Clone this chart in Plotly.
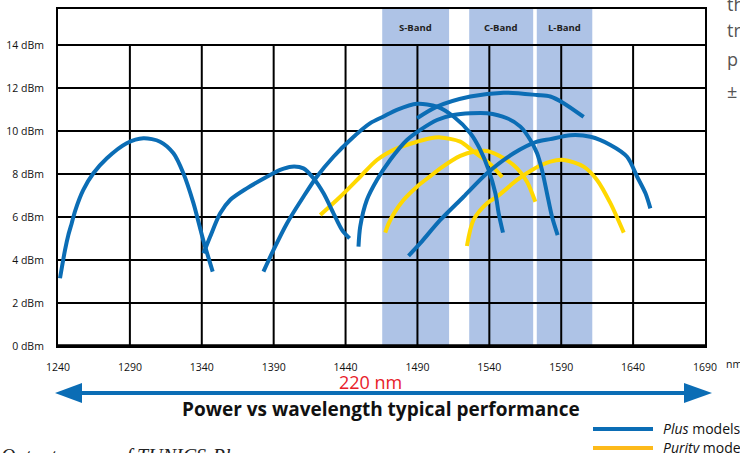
import plotly.graph_objects as go

# ---------------- data ----------------
wl_ticks = [1240, 1290, 1340, 1390, 1440, 1490, 1540, 1590, 1640, 1690]
dbm_ticks = [0, 2, 4, 6, 8, 10, 12, 14]
dbm_labels = [f"{v} dBm" for v in dbm_ticks]

band_names = ["S-Band", "C-Band", "L-Band"]
band_start = [1465.5, 1526.0, 1573.0]
band_end = [1512.0, 1570.5, 1611.6]

# Plus models (blue)
plus1_x = [1241.4, 1244.9, 1247.2, 1249.5, 1252.0, 1257.6, 1264.6, 1274.0, 1287.8, 1299.4, 1311.0, 1320.3, 1327.2, 1334.2, 1341.0, 1347.6]
plus1_y = [3.15, 4.47, 5.16, 5.70, 6.30, 7.26, 8.03, 8.73, 9.43, 9.66, 9.50, 8.96, 8.03, 6.64, 4.93, 3.46]

plus2_x = [1341.2, 1345.8, 1352.8, 1359.7, 1371.3, 1385.3, 1394.5, 1402.5, 1410.7, 1417.7, 1424.7, 1431.6, 1437.5, 1442.8]
plus2_y = [4.31, 5.08, 6.17, 6.79, 7.33, 7.87, 8.19, 8.34, 8.26, 7.80, 7.10, 6.17, 5.40, 5.00]

plus3_x = [1382.9, 1389.9, 1399.2, 1410.7, 1420.0, 1431.6, 1443.2, 1457.2, 1466.4, 1475.7, 1489.7, 1503.6, 1515.1, 1526.8, 1533.7, 1539.5, 1544.2, 1546.5, 1549.5]
plus3_y = [3.46, 4.47, 5.70, 6.94, 7.87, 8.80, 9.58, 10.36, 10.67, 10.98, 11.26, 11.13, 10.67, 9.89, 9.12, 8.19, 7.10, 6.17, 5.27]

plus4_x = [1449.0, 1450.2, 1454.8, 1461.8, 1471.0, 1482.7, 1492.0, 1503.6, 1515.1, 1527.0, 1538.4, 1552.3, 1561.6, 1568.5, 1573.2, 1576.6, 1580.1, 1583.6, 1587.5]
plus4_y = [4.62, 5.55, 6.79, 7.72, 8.65, 9.58, 10.05, 10.51, 10.74, 10.82, 10.82, 10.59, 10.20, 9.58, 8.96, 8.19, 7.10, 6.01, 5.16]

plus5_x = [1489.7, 1503.6, 1526.8, 1550.0, 1573.2, 1582.4, 1591.7, 1605.6]
plus5_y = [10.59, 11.13, 11.60, 11.78, 11.67, 11.60, 11.29, 10.65]

plus6_x = [1483.8, 1492.0, 1505.9, 1522.1, 1538.4, 1556.9, 1573.2, 1582.4, 1596.4, 1610.3, 1624.2, 1635.8, 1642.8, 1648.6, 1652.0]
plus6_y = [4.19, 4.78, 5.86, 6.94, 8.03, 8.96, 9.50, 9.62, 9.80, 9.73, 9.35, 8.80, 7.87, 7.10, 6.40]

# Purity models (yellow)
pur1_x = [1422.4, 1436.3, 1450.2, 1461.8, 1475.7, 1489.7, 1499.0, 1505.9, 1519.8, 1529.0, 1540.0, 1549.0]
pur1_y = [6.09, 6.94, 7.87, 8.65, 9.19, 9.50, 9.66, 9.70, 9.50, 9.04, 8.50, 7.85]

pur2_x = [1467.6, 1470.0, 1474.0, 1480.3, 1489.7, 1499.0, 1505.9, 1519.8, 1530.2, 1538.4, 1550.0, 1559.3, 1566.2, 1572.0]
pur2_y = [5.27, 5.70, 6.20, 6.79, 7.41, 7.90, 8.26, 8.84, 9.04, 9.07, 8.73, 8.26, 7.64, 6.71]

pur3_x = [1524.4, 1529.0, 1538.4, 1545.3, 1559.3, 1570.0, 1582.4, 1591.7, 1605.6, 1614.9, 1624.2, 1633.5]
pur3_y = [4.65, 5.86, 6.64, 6.94, 7.72, 8.20, 8.57, 8.65, 8.34, 7.72, 6.64, 5.27]

plus_curves = [(plus1_x, plus1_y), (plus2_x, plus2_y), (plus3_x, plus3_y),
               (plus4_x, plus4_y), (plus5_x, plus5_y), (plus6_x, plus6_y)]
purity_curves = [(pur1_x, pur1_y), (pur2_x, pur2_y), (pur3_x, pur3_y)]

BLUE = "#0B6DB5"
YELLOW = "#FFD800"
LEG_YELLOW = "#FDBA1A"
BAND = "#AEC3E6"
FONT = "Open Sans"

# ---------------- geometry helpers (pixel -> paper) ----------------
L, R, T, B = 58, 35, 9, 107
W, H = 740, 453
PW, PH = W - L - R, H - T - B


def px(x):
    return (x - L) / PW


def py(y):
    return (H - B - y) / PH


fig = go.Figure()

# vertical grid lines (0 .. 14 dBm only)
gx, gy = [], []
for v in wl_ticks[1:-1]:
    gx += [v, v, None]
    gy += [0, dbm_ticks[-1], None]
fig.add_trace(go.Scatter(x=gx, y=gy, mode="lines", line=dict(color="black", width=2),
                         hoverinfo="skip", showlegend=False))

for cx, cy in purity_curves:
    fig.add_trace(go.Scatter(x=cx, y=cy, mode="lines",
                             line=dict(color=YELLOW, width=4, shape="spline", smoothing=0.8),
                             showlegend=False))
for cx, cy in plus_curves:
    fig.add_trace(go.Scatter(x=cx, y=cy, mode="lines",
                             line=dict(color=BLUE, width=4, shape="spline", smoothing=0.8),
                             showlegend=False))

shapes = []
for s, e in zip(band_start, band_end):
    shapes.append(dict(type="rect", xref="x", yref="paper", x0=s, x1=e, y0=0, y1=1,
                       fillcolor=BAND, line=dict(width=0), layer="below"))
# thick bottom line
shapes.append(dict(type="line", xref="paper", yref="y", x0=0, x1=1, y0=0, y1=0,
                   line=dict(color="black", width=3.5), layer="above"))

# double arrow
ay = py(393)
shapes.append(dict(type="line", xref="paper", yref="paper", x0=px(78), x1=px(688), y0=ay, y1=ay,
                   line=dict(color=BLUE, width=4)))
shapes.append(dict(type="path", xref="paper", yref="paper",
                   path=f"M {px(55)},{ay} L {px(82)},{py(383)} L {px(82)},{py(403)} Z",
                   fillcolor=BLUE, line=dict(width=0)))
shapes.append(dict(type="path", xref="paper", yref="paper",
                   path=f"M {px(712)},{ay} L {px(684)},{py(383)} L {px(684)},{py(403)} Z",
                   fillcolor=BLUE, line=dict(width=0)))

# legend lines
shapes.append(dict(type="line", xref="paper", yref="paper", x0=px(593), x1=px(653),
                   y0=py(429), y1=py(429), line=dict(color=BLUE, width=4)))
shapes.append(dict(type="line", xref="paper", yref="paper", x0=px(593), x1=px(653),
                   y0=py(448), y1=py(448), line=dict(color=LEG_YELLOW, width=4)))

annotations = []
for name, s, e in zip(band_names, band_start, band_end):
    annotations.append(dict(x=(s + e) / 2, y=14.83, xref="x", yref="y", text=f"<b>{name}</b>",
                            showarrow=False, font=dict(family=FONT, size=9.5, color="#222")))

annotations.append(dict(x=px(724), y=py(364), xref="paper", yref="paper", text="nm",
                        xanchor="left", yanchor="middle", showarrow=False,
                        font=dict(family=FONT, size=10.5, color="#111")))
annotations.append(dict(x=px(370), y=py(382), xref="paper", yref="paper", text="220 nm",
                        showarrow=False, xanchor="center", yanchor="middle",
                        font=dict(family=FONT, size=18, color="#E8202A")))
annotations.append(dict(x=px(380.5), y=py(409), xref="paper", yref="paper",
                        text="<b>Power vs wavelength typical performance</b>",
                        showarrow=False, xanchor="center", yanchor="middle",
                        font=dict(family=FONT, size=19, color="#111")))
annotations.append(dict(x=px(661), y=py(428), xref="paper", yref="paper",
                        text="<i>Plus</i> models", showarrow=False, xanchor="left", yanchor="middle",
                        font=dict(family=FONT, size=14, color="#111")))
annotations.append(dict(x=px(661), y=py(447), xref="paper", yref="paper",
                        text="<i>Purity</i> models", showarrow=False, xanchor="left", yanchor="middle",
                        font=dict(family=FONT, size=14, color="#111")))
annotations.append(dict(x=px(-1), y=py(443), xref="paper", yref="paper",
                        text="<i>Output power of TUNICS-Plus</i>", showarrow=False,
                        xanchor="left", yanchor="top",
                        font=dict(family="Liberation Serif", size=20, color="#222")))
for txt, yy in [("th", 4), ("tr", 30), ("p", 59), ("±", 91)]:
    annotations.append(dict(x=px(725), y=py(yy), xref="paper", yref="paper", text=txt,
                            showarrow=False, xanchor="left", yanchor="middle",
                            font=dict(family=FONT, size=18, color="#555")))

fig.update_layout(
    width=W, height=H,
    margin=dict(l=L, r=R, t=T, b=B, pad=0),
    paper_bgcolor="white", plot_bgcolor="white",
    showlegend=False,
    shapes=shapes, annotations=annotations,
    xaxis=dict(range=[wl_ticks[0], wl_ticks[-1]], tickvals=wl_ticks, ticktext=[str(v) for v in wl_ticks],
               showgrid=False, zeroline=False, showline=True, mirror=True, linecolor="black", linewidth=2,
               ticks="", ticklabelstandoff=10, tickfont=dict(family=FONT, size=10.5, color="#111"),
               fixedrange=True, automargin=False),
    yaxis=dict(range=[0, 15.67], tickvals=dbm_ticks, ticktext=dbm_labels,
               showgrid=True, gridcolor="black", gridwidth=2, zeroline=False,
               showline=True, mirror=True, linecolor="black", linewidth=2,
               ticks="", ticklabelstandoff=10, tickfont=dict(family=FONT, size=10.5, color="#111"),
               fixedrange=True, automargin=False),
)

fig.write_html("out.html", config={"displayModeBar": False},
               post_script="document.body.style.margin='0px';document.body.style.overflow='hidden';")
